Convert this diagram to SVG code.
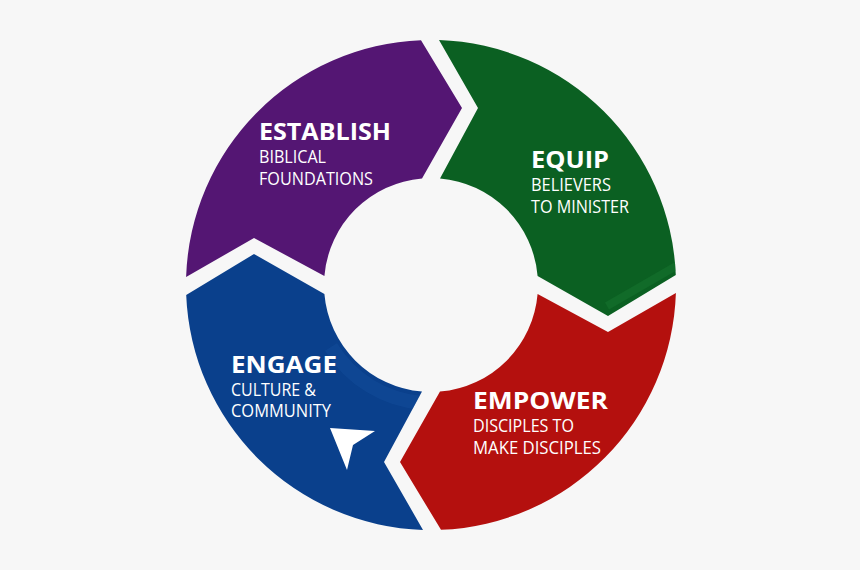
<svg xmlns="http://www.w3.org/2000/svg" xmlns:xlink="http://www.w3.org/1999/xlink" width="860" height="570" viewBox="0 0 860 570">
  <style>
    .h { font-family: "Open Sans", "Liberation Sans", sans-serif; font-weight: 700; font-size: 23px; fill: #ffffff; }
    .s { font-family: "Open Sans", "Liberation Sans", sans-serif; font-weight: 400; font-size: 19px; fill: #ffffff; }
  </style>
  <defs>
    <path id="seg" d="M 8 -244.9 A 245 245 0 0 1 244.8 -10 L 177 31 L 106.6 -9 A 107 107 0 0 0 9 -106.6 L 47 -177 Z"/>
    <clipPath id="clipGreen"><use xlink:href="#seg" href="#seg"/></clipPath>
    <clipPath id="clipBlue"><use xlink:href="#seg" href="#seg" transform="rotate(180)"/></clipPath>
  </defs>
  <rect width="860" height="570" fill="#f7f7f7"/>

  <g id="establish" transform="translate(431 285)">
    <use xlink:href="#seg" href="#seg" transform="rotate(-90)" fill="#541673"/>
  </g>
  <g id="establish-text">
    <text class="h" x="259" y="140" textLength="132" lengthAdjust="spacingAndGlyphs">ESTABLISH</text>
    <text class="s" x="259" y="163" textLength="67" lengthAdjust="spacingAndGlyphs">BIBLICAL</text>
    <text class="s" x="259" y="185" textLength="114" lengthAdjust="spacingAndGlyphs">FOUNDATIONS</text>
  </g>

  <g id="equip" transform="translate(431 285)">
    <use xlink:href="#seg" href="#seg" fill="#0b6022"/>
    <g clip-path="url(#clipGreen)">
      <path d="M 252 -23 L 176 21" fill="none" stroke="#177530" stroke-opacity="0.5" stroke-width="8"/>
    </g>
  </g>
  <g id="equip-text">
    <text class="h" x="531" y="168" textLength="78" lengthAdjust="spacingAndGlyphs">EQUIP</text>
    <text class="s" x="531" y="191" textLength="80" lengthAdjust="spacingAndGlyphs">BELIEVERS</text>
    <text class="s" x="531" y="213" textLength="98" lengthAdjust="spacingAndGlyphs">TO MINISTER</text>
  </g>

  <g id="empower" transform="translate(431 285)">
    <use xlink:href="#seg" href="#seg" transform="rotate(90)" fill="#b4100e"/>
  </g>
  <g id="empower-text">
    <text class="h" x="473" y="409" textLength="135" lengthAdjust="spacingAndGlyphs">EMPOWER</text>
    <text class="s" x="473" y="432" textLength="101" lengthAdjust="spacingAndGlyphs">DISCIPLES TO</text>
    <text class="s" x="473" y="454" textLength="128" lengthAdjust="spacingAndGlyphs">MAKE DISCIPLES</text>
  </g>

  <g id="engage" transform="translate(431 285)">
    <use xlink:href="#seg" href="#seg" transform="rotate(180)" fill="#0a408c"/>
    <g clip-path="url(#clipBlue)">
      <path d="M -8 118 A 118 118 0 0 1 -100 62" fill="none" stroke="#1a56a6" stroke-opacity="0.3" stroke-width="14"/>
    </g>
    <polygon points="-101,143 -56,146 -78,160 -84,185" fill="#ffffff"/>
  </g>
  <g id="engage-text">
    <text class="h" x="231" y="373" textLength="106" lengthAdjust="spacingAndGlyphs">ENGAGE</text>
    <text class="s" x="231" y="396" textLength="85" lengthAdjust="spacingAndGlyphs">CULTURE &amp;</text>
    <text class="s" x="231" y="417" textLength="100" lengthAdjust="spacingAndGlyphs">COMMUNITY</text>
  </g>

  <g id="connectors"></g>
</svg>
